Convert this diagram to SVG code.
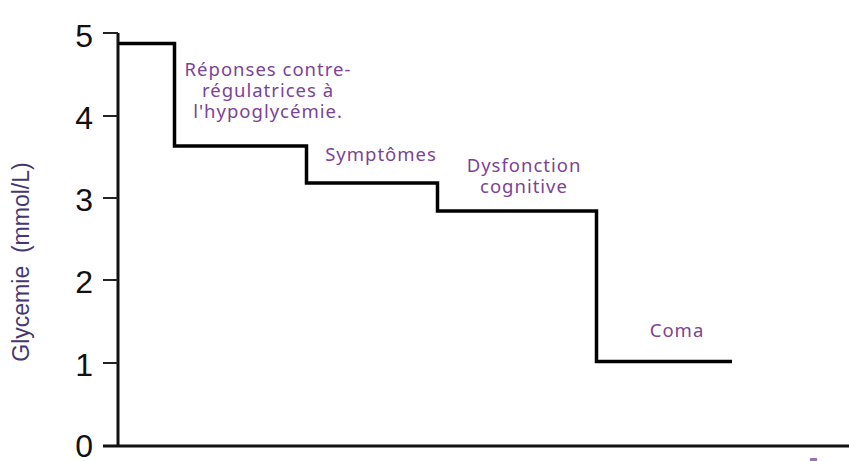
<svg xmlns="http://www.w3.org/2000/svg" width="849" height="461" viewBox="0 0 849 461">
  <style>
    .axis { stroke: #111; stroke-width: 3; fill: none; }
    .tick { stroke: #222; stroke-width: 2; }
    .step { stroke: #000; stroke-width: 3.5; fill: none; stroke-linejoin: miter; }
    .num { font-family: "Liberation Sans", Arial, sans-serif; font-size: 32px; fill: #111; text-anchor: end; }
    .lbl { font-family: "Noto Sans", "Open Sans", sans-serif; font-size: 18.5px; letter-spacing: 1px; fill: #7b4397; text-anchor: middle; }
    .ylab { font-family: "Liberation Sans", Arial, sans-serif; font-size: 23px; fill: #463770; text-anchor: middle; white-space: pre; }
  </style>
  <rect width="849" height="461" fill="#fff"/>
  <g id="axes">
    <line class="axis" x1="118" y1="33" x2="118" y2="447"/>
    <line class="axis" x1="103" y1="446" x2="849" y2="446"/>
    <g class="tick">
      <line x1="103" y1="33" x2="118" y2="33"/>
      <line x1="103" y1="116" x2="118" y2="116"/>
      <line x1="103" y1="198" x2="118" y2="198"/>
      <line x1="103" y1="280" x2="118" y2="280"/>
      <line x1="103" y1="363" x2="118" y2="363"/>
    </g>
    <text class="num" x="93" y="47">5</text>
    <text class="num" x="93" y="129">4</text>
    <text class="num" x="93" y="211">3</text>
    <text class="num" x="93" y="293">2</text>
    <text class="num" x="93" y="376">1</text>
    <text class="num" x="93" y="457">0</text>
    <text class="ylab" xml:space="preserve" transform="translate(29,262) rotate(-90)">Glycemie  (mmol/L)</text>
  </g>
  <g id="connectors">
    <path class="step" d="M118,43.5 H174.5 V146 H306.5 V183 H437.5 V211 H596.5 V361.5 H732"/>
  </g>
  <g id="node-reponses">
    <text class="lbl" x="268" y="76">Réponses contre-</text>
    <text class="lbl" x="268" y="97">régulatrices à</text>
    <text class="lbl" x="268" y="118">l'hypoglycémie.</text>
  </g>
  <g id="node-symptomes">
    <text class="lbl" x="381" y="161">Symptômes</text>
  </g>
  <g id="node-dysfonction">
    <text class="lbl" x="524" y="172">Dysfonction</text>
    <text class="lbl" x="524" y="193">cognitive</text>
  </g>
  <g id="node-coma">
    <text class="lbl" x="677" y="337">Coma</text>
  </g>
  <rect x="810" y="458" width="7" height="3" fill="#9b6fc0"/>
</svg>
